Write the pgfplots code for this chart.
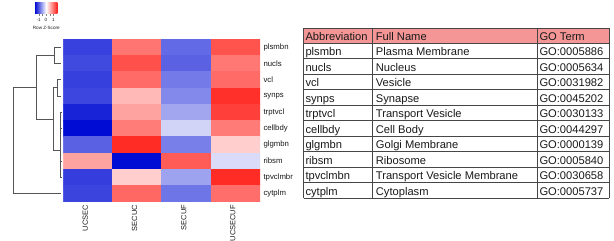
\documentclass[border=0pt]{standalone}
\usepackage{pgfplots}
\pgfplotsset{compat=1.18}
\usepackage{pgfplotstable}
\usepackage{fontspec}
\setmainfont{Liberation Sans}
\definecolor{hmblue}{RGB}{0,12,212}
\definecolor{hmred}{RGB}{255,32,26}
\definecolor{hdrfill}{RGB}{245,150,150}
\definecolor{tblline}{RGB}{70,70,70}
\definecolor{dgline}{RGB}{85,85,85}
\definecolor{txt}{RGB}{25,25,25}

% row z-scores: x = column (0 UCSEC,1 SECUC,2 SECUF,3 UCSECUF), y = row
\pgfplotstableread{
x y z
0 0 -1.17
1 0 0.93
2 0 -0.92
3 0 1.16
0 1 -1.12
1 1 1.18
2 1 -0.97
3 1 0.91
0 2 -1.18
1 2 1.00
2 2 -0.82
3 2 1.00
0 3 -1.14
1 3 0.47
2 3 -0.73
3 3 1.40
0 4 -1.36
1 4 0.62
2 4 -0.55
3 4 1.29
0 5 -1.50
1 5 0.88
2 5 -0.27
3 5 0.89
0 6 -0.97
1 6 1.43
2 6 -0.79
3 6 0.33
0 7 0.62
1 7 -1.50
2 7 1.10
3 7 -0.22
0 8 -1.19
1 8 0.33
2 8 -0.57
3 8 1.43
0 9 -1.15
1 9 1.02
2 9 -0.85
3 9 0.98
}\hmdata

\tikzset{dg/.style={dgline, line width=0.6bp, mark=none}}

\begin{document}
\begin{tikzpicture}[x=1bp,y=-1bp]
\path[use as bounding box] (0,0) rectangle (614,240);
\coordinate (hm) at (63.3,39);
\coordinate (dg) at (0,39);

% dendrogram
\begin{axis}[at={(dg)}, anchor=north west, scale only axis,
  width=63.3bp, height=162.5bp,
  xmin=0, xmax=63.3, ymin=-0.5, ymax=9.5, y dir=reverse,
  hide axis, clip=false]
\addplot[dg] coordinates {(61,0) (54,0) (54,1) (61,1)};
\addplot[dg] coordinates {(61,2) (57.3,2) (57.3,3) (61,3)};
\addplot[dg] coordinates {(61,4) (60.6,4) (60.6,5) (61,5)};
\addplot[dg] coordinates {(61,7) (60.6,7) (60.6,8) (61,8)};
\addplot[dg] coordinates {(60.6,4.5) (60.2,4.5) (60.2,6) (61,6)};
\addplot[dg] coordinates {(60.6,7.5) (59.8,7.5) (59.8,5.25) (60.2,5.25)};
\addplot[dg] coordinates {(57.3,2.5) (53.3,2.5) (53.3,6.375) (59.8,6.375)};
\addplot[dg] coordinates {(54,0.5) (36.7,0.5) (36.7,4.4375) (53.3,4.4375)};
\addplot[dg] coordinates {(36.7,2.46875) (13.3,2.46875) (13.3,9) (61,9)};
\end{axis}

% heatmap
\begin{axis}[at={(hm)}, anchor=north west, scale only axis,
  width=196.7bp, height=162.5bp,
  xmin=-0.5, xmax=3.5, ymin=-0.5, ymax=9.5, y dir=reverse,
  colormap={bwr}{rgb255=(0,12,212) rgb255=(255,255,255) rgb255=(255,32,26)},
  point meta min=-1.5, point meta max=1.5,
  axis line style={draw=none}, major tick length=0pt,
  xtick={0,1,2,3}, xticklabels={UCSEC,SECUC,SECUF,UCSECUF},
  xticklabel style={xshift=-2.5bp, rotate=90, anchor=east, font=\fontsize{7.5}{8}\selectfont, text=txt},
  ytick={0,1,2,3,4,5,6,7,8,9},
  yticklabels={plsmbn,nucls,vcl,synps,trptvcl,cellbdy,glgmbn,ribsm,tpvclmbr,cytplm},
  yticklabel pos=right,
  yticklabel style={anchor=west, font=\fontsize{7.8}{8}\selectfont, text=txt},
]
\addplot[matrix plot*, mesh/cols=4, point meta=explicit, shader=flat corner]
  table[x=x, y=y, meta=z] {\hmdata};
\end{axis}

% colour key
\shade[left color=hmblue, right color=hmred, middle color=white] (35,2.5) rectangle (57.3,13.3);
\foreach \t in {38.7,42.3,46,49.7,53.3} \draw[gray, line width=0.3bp] (\t,14) -- (\t,16);
\node[font=\fontsize{4.6}{5}\selectfont, text=txt] at (38.7,19.8) {-1};
\node[font=\fontsize{4.6}{5}\selectfont, text=txt] at (46,19.8) {0};
\node[font=\fontsize{4.6}{5}\selectfont, text=txt] at (53.3,19.8) {1};
\node[font=\fontsize{4.6}{5}\selectfont, text=txt] at (46.3,27.8) {Row Z-Score};

% table
\fill[hdrfill] (303.5,28.3) rectangle (609.3,43.3);
\foreach \yy in {28.3,43.3,58.8,74.3,89.8,105.3,120.8,136.3,151.8,167.3,182.8,198.3}
  \draw[tblline, line width=0.7bp] (303.5,\yy) -- (609.3,\yy);
\foreach \xx in {303.5,372.7,537.3,609.3}
  \draw[tblline, line width=0.7bp] (\xx,28.3) -- (\xx,198.3);
\begin{scope}[every node/.style={font=\fontsize{11.2}{12}\selectfont, text=txt, anchor=base west, inner sep=0pt}]
\node at (305.3,40.3) {Abbreviation};
\node at (375.7,40.3) {Full Name};
\node at (539.3,40.3) {GO Term};
\foreach \a/\b/\c [count=\i] in {plsmbn/Plasma Membrane/GO:0005886,
  nucls/Nucleus/GO:0005634, vcl/Vesicle/GO:0031982, synps/Synapse/GO:0045202,
  trptvcl/Transport Vesicle/GO:0030133, cellbdy/Cell Body/GO:0044297,
  glgmbn/Golgi Membrane/GO:0000139, ribsm/Ribosome/GO:0005840,
  tpvclmbn/Transport Vesicle Membrane/GO:0030658, cytplm/Cytoplasm/GO:0005737}{
  \pgfmathsetmacro{\yb}{43.3+15.5*\i-3}
  \node at (305.3,\yb) {\a};
  \node at (375.7,\yb) {\b};
  \node at (539.3,\yb) {\c};
}
\end{scope}
\end{tikzpicture}
\end{document}
